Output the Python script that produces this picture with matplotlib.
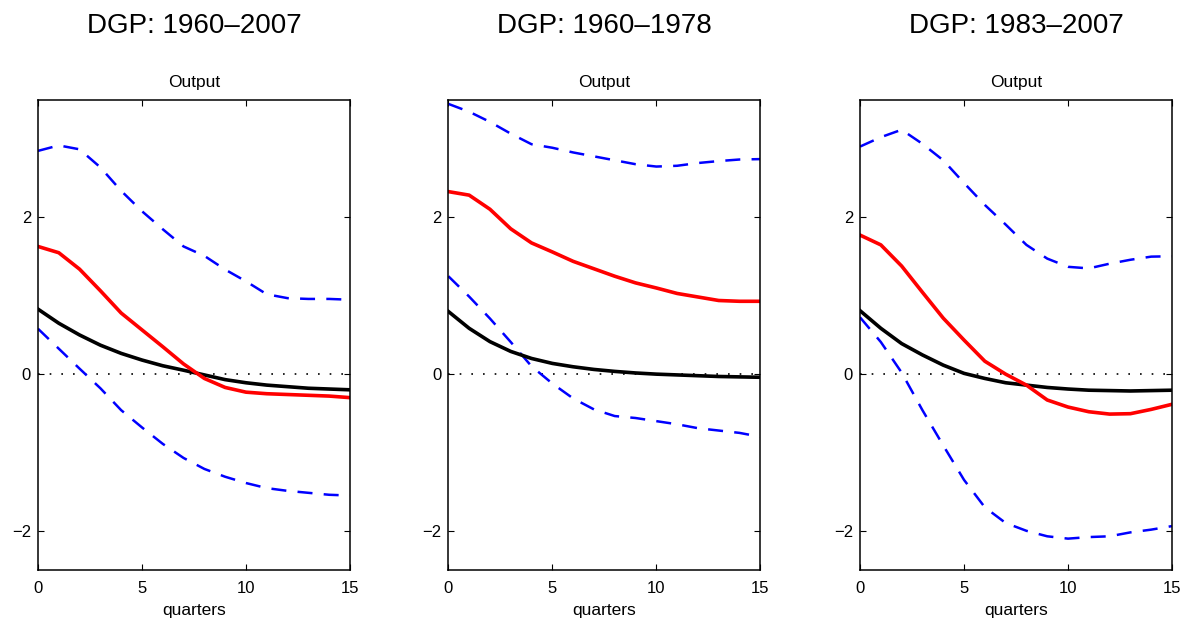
import numpy as np
import matplotlib.pyplot as plt

plt.rcParams['font.family'] = ['Liberation Sans', 'DejaVu Sans']

# horizon in quarters
quarters = np.arange(16)

titles = ['DGP: 1960\u20132007', 'DGP: 1960\u20131978', 'DGP: 1983\u20132007']

# panel 1: DGP 1960-2007
red_1 = [1.63, 1.55, 1.34, 1.065, 0.78, 0.565, 0.35, 0.13, -0.055, -0.17, -0.23, -0.25, -0.26, -0.27, -0.28, -0.30]
black_1 = [0.83, 0.65, 0.50, 0.37, 0.265, 0.18, 0.107, 0.05, -0.01, -0.07, -0.11, -0.14, -0.16, -0.18, -0.19, -0.20]
upper_1 = [2.85, 2.92, 2.87, 2.64, 2.34, 2.08, 1.85, 1.63, 1.51, 1.335, 1.185, 1.02, 0.97, 0.96, 0.96, 0.95]
lower_1 = [0.58, 0.325, 0.07, -0.18, -0.46, -0.68, -0.89, -1.07, -1.21, -1.31, -1.39, -1.455, -1.49, -1.515, -1.54, -1.55]

# panel 2: DGP 1960-1978
red_2 = [2.33, 2.285, 2.105, 1.855, 1.675, 1.56, 1.44, 1.345, 1.25, 1.165, 1.10, 1.03, 0.985, 0.94, 0.93, 0.93]
black_2 = [0.80, 0.585, 0.415, 0.29, 0.20, 0.137, 0.094, 0.06, 0.035, 0.015, 0.0, -0.01, -0.02, -0.03, -0.035, -0.04]
upper_2 = [3.45, 3.35, 3.22, 3.07, 2.935, 2.89, 2.83, 2.78, 2.73, 2.68, 2.65, 2.66, 2.695, 2.72, 2.74, 2.745]
lower_2 = [1.25, 0.99, 0.71, 0.41, 0.10, -0.12, -0.31, -0.45, -0.535, -0.56, -0.60, -0.64, -0.69, -0.72, -0.75, -0.80]

# panel 3: DGP 1983-2007
red_3 = [1.775, 1.65, 1.38, 1.045, 0.715, 0.435, 0.165, 0.0, -0.14, -0.33, -0.42, -0.48, -0.51, -0.505, -0.45, -0.385]
black_3 = [0.81, 0.585, 0.39, 0.245, 0.115, 0.01, -0.055, -0.11, -0.14, -0.17, -0.19, -0.205, -0.21, -0.215, -0.21, -0.205]
upper_3 = [2.905, 3.025, 3.12, 2.94, 2.73, 2.44, 2.16, 1.91, 1.65, 1.475, 1.37, 1.35, 1.41, 1.46, 1.50, 1.505]
lower_3 = [0.725, 0.41, 0.02, -0.46, -0.91, -1.35, -1.70, -1.90, -2.00, -2.07, -2.10, -2.08, -2.07, -2.02, -1.985, -1.94]

panels = [
    (red_1, black_1, upper_1, lower_1),
    (red_2, black_2, upper_2, lower_2),
    (red_3, black_3, upper_3, lower_3),
]

fig = plt.figure(figsize=(11.83, 6.19), dpi=100)

lefts = [0.0321, 0.379, 0.727]
width = 0.2637

for i, (red, black, upper, lower) in enumerate(panels):
    ax = fig.add_axes([lefts[i], 0.0792, width, 0.7593])

    # zero line
    ax.plot([0, 15], [0, 0], color='black', lw=1.2, linestyle=(0, (1, 6)))

    # confidence bands
    ax.plot(quarters, upper, color='blue', lw=1.8, dashes=(6, 4.5), dash_capstyle='butt')
    ax.plot(quarters, lower, color='blue', lw=1.8, dashes=(6, 4.5), dash_capstyle='butt')

    # responses
    ax.plot(quarters, black, color='black', lw=2.6)
    ax.plot(quarters, red, color='red', lw=2.6)

    ax.set_xlim(0, 15)
    ax.set_ylim(-2.5, 3.5)
    ax.set_xticks([0, 5, 10, 15])
    ax.set_yticks([-2, 0, 2])
    ax.tick_params(direction='in', length=4, width=0.8, top=True, right=True, labelsize=12)
    ax.tick_params(axis='x', pad=8)
    ax.tick_params(axis='y', pad=5)
    for s in ax.spines.values():
        s.set_linewidth(1.1)

    ax.set_title('Output', fontsize=12.5, pad=9)
    ax.set_xlabel('quarters', fontsize=12.5, labelpad=5)

    # big heading above each panel
    fig.text(lefts[i] + width / 2, 0.9467, titles[i], ha='center', va='baseline', fontsize=20)

plt.savefig('out.png', dpi=100)
